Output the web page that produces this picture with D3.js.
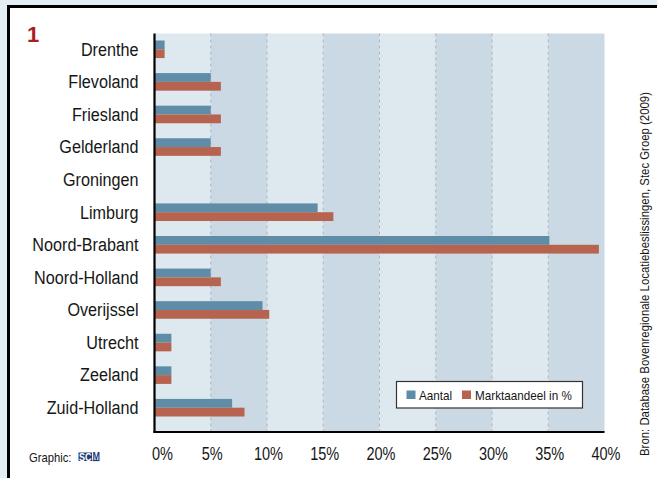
<!DOCTYPE html>
<html><head><meta charset="utf-8">
<script src="https://cdn.jsdelivr.net/npm/d3@7"></script>
<style>
html,body{margin:0;padding:0;background:#e3edf4;}
svg{display:block;}
text{font-family:'Liberation Sans',Arial,sans-serif;}
</style></head>
<body>
<script>
const categories = ["Drenthe","Flevoland","Friesland","Gelderland","Groningen","Limburg","Noord-Brabant","Noord-Holland","Overijssel","Utrecht","Zeeland","Zuid-Holland"];
const aantal = [0.9, 5.0, 5.0, 5.0, 0, 14.5, 35.1, 5.0, 9.6, 1.5, 1.5, 6.9];
const marktaandeel = [0.9, 5.9, 5.9, 5.9, 0, 15.9, 39.5, 5.9, 10.2, 1.5, 1.5, 8.0];
const seriesNames = ["Aantal", "Marktaandeel in %"];
const tickValues = [0,5,10,15,20,25,30,35,40];
const tickLabels = ["0%","5%","10%","15%","20%","25%","30%","35%","40%"];
const source = "Bron: Database Bovenregionale Locatiebeslissingen, Stec Groep (2009)";

const W = 657, H = 478;
const colBlue = "#5f8da8", colRed = "#b66350", ink = "#161616";
const svg = d3.select("body").append("svg").attr("width", W).attr("height", H);

// condensed text helper
function ctext(sel, x, y, str, size, sx, anchor) {
  return sel.append("text")
    .attr("transform", `translate(${x},${y}) scale(${sx},1)`)
    .attr("font-size", size).attr("fill", ink)
    .attr("text-anchor", anchor || "start").text(str);
}

// outer frame
svg.append("rect").attr("x",0).attr("y",0).attr("width",W).attr("height",H).attr("fill","#e3edf4");
svg.append("rect").attr("x",8.5).attr("y",6.5).attr("width",W).attr("height",H).attr("fill","#fff");
svg.append("line").attr("x1",8.5).attr("x2",W).attr("y1",6.5).attr("y2",6.5).attr("stroke","#000").attr("stroke-width",3);
svg.append("line").attr("x1",8.5).attr("x2",8.5).attr("y1",5).attr("y2",H).attr("stroke","#000").attr("stroke-width",3);

const x = d3.scaleLinear().domain([0,40]).range([154.5,604.5]);
const y = d3.scaleBand().domain(categories).range([33,424]).paddingInner(0.46).paddingOuter(0.23);
const plotTop = 33.5, plotBottom = 432;

// alternating bands
const bands = d3.range(0,40,5);
svg.selectAll("rect.band").data(bands).enter().append("rect")
  .attr("x", d => x(d)).attr("width", d => x(d+5)-x(d))
  .attr("y", plotTop).attr("height", plotBottom-plotTop)
  .attr("fill", (d,i) => i%2 ? "#cbd9e4" : "#dee8ef");

// dashed grid
svg.selectAll("line.grid").data(tickValues.slice(1,-1)).enter().append("line")
  .attr("x1", d => x(d)).attr("x2", d => x(d))
  .attr("y1", plotTop).attr("y2", plotBottom)
  .attr("stroke","#aab6c0").attr("stroke-width",1).attr("stroke-dasharray","3,3");

// bars
const bh = y.bandwidth()/2;
const g = svg.append("g");
categories.forEach((c,i) => {
  g.append("rect").attr("x", x(0)).attr("y", y(c)).attr("height", bh)
    .attr("width", x(aantal[i]) - x(0)).attr("fill", colBlue);
  g.append("rect").attr("x", x(0)).attr("y", y(c)+bh).attr("height", bh)
    .attr("width", x(marktaandeel[i]) - x(0)).attr("fill", colRed);
});

// axes lines
svg.append("line").attr("x1", x(0)).attr("x2", x(0)).attr("y1", plotTop).attr("y2", plotBottom+1)
  .attr("stroke","#000").attr("stroke-width",2.2);
svg.append("line").attr("x1", x(0)-1).attr("x2", x(40)).attr("y1", plotBottom).attr("y2", plotBottom)
  .attr("stroke","#000").attr("stroke-width",2);

// category labels
categories.forEach(c => ctext(svg, 138.5, y(c)+bh+6.3, c, 17.6, 0.92, "end"));

// x tick labels
tickValues.forEach((d,i) => ctext(svg, x(d) + (i===0 ? 8 : 1.5), 460, tickLabels[i], 17.5, 0.83, "middle"));

// title number
svg.append("text").attr("x",27).attr("y",42).attr("font-size",22).attr("font-weight","bold")
  .attr("fill","#a81f1f").text("1");

// legend
const lg = svg.append("g");
lg.append("rect").attr("x",396.5).attr("y",381.5).attr("width",186).attr("height",26.5)
  .attr("fill","#fff").attr("stroke","#333").attr("stroke-width",1.2);
lg.append("rect").attr("x",406.5).attr("y",390.5).attr("width",9).attr("height",8.5).attr("fill",colBlue);
ctext(lg, 419, 399.5, seriesNames[0], 13, 0.9);
lg.append("rect").attr("x",462).attr("y",390.5).attr("width",9).attr("height",8.5).attr("fill",colRed);
ctext(lg, 475, 399.5, seriesNames[1], 13, 0.9);

// source
svg.append("text").attr("transform","translate(649,456) rotate(-90)")
  .attr("font-size",12).attr("fill",ink)
  .attr("textLength",364).attr("lengthAdjust","spacingAndGlyphs").text(source);

// graphic credit
ctext(svg, 29, 461.5, "Graphic:", 12.5, 0.9);
svg.append("rect").attr("x",78.5).attr("y",452.5).attr("width",13.5).attr("height",8.5).attr("fill","#1d3d7a");
ctext(svg, 85.2, 460.5, "SC", 10, 0.9, "middle").attr("font-weight","bold").attr("fill","#fff");
ctext(svg, 92.5, 459.5, "M", 10, 0.9).attr("font-weight","bold").attr("fill","#1d3d7a");
svg.append("line").attr("x1",92.5).attr("x2",99.5).attr("y1",460.5).attr("y2",460.5).attr("stroke","#1d3d7a").attr("stroke-width",1.2);
</script>
</body></html>
